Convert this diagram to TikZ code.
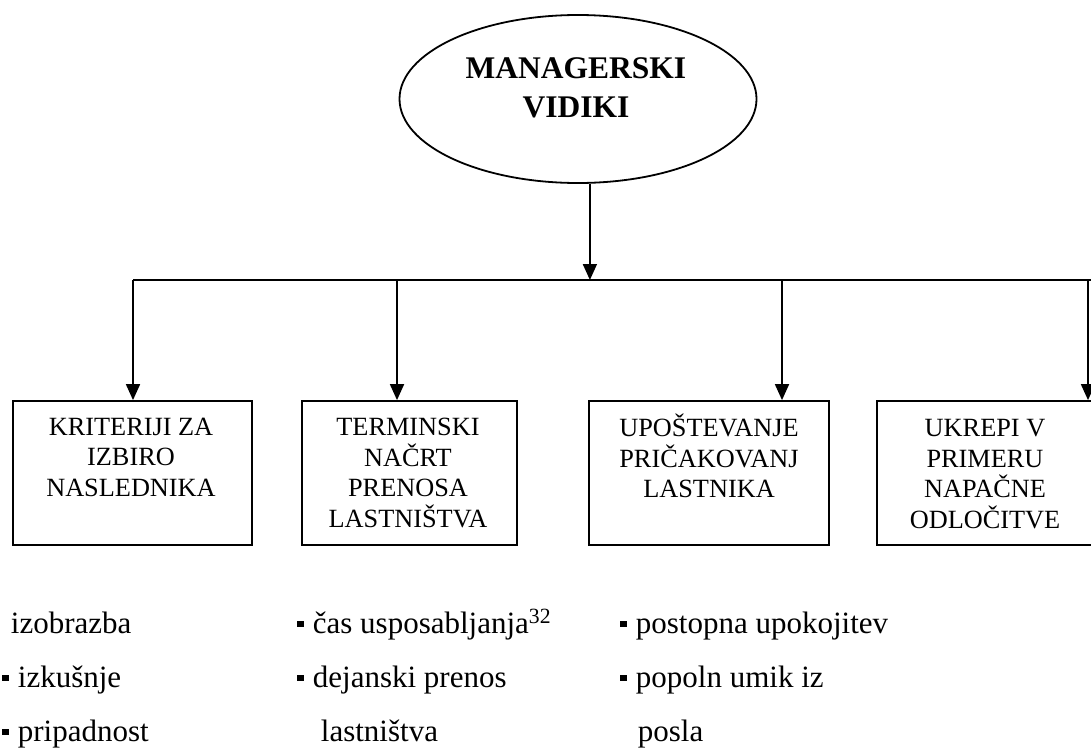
\documentclass[tikz,border=0pt]{standalone}
\usepackage{fontspec}
\setmainfont{Liberation Serif}
\usetikzlibrary{arrows.meta,shapes.geometric}
\newcommand{\sqbul}{\rule[0.18em]{0.2em}{0.2em}\hspace{0.3em}}

\begin{document}
\begin{tikzpicture}[x=1pt, y=-1pt, >={Triangle[length=16pt,width=14pt]}, line width=1.8pt,
    box/.style={draw, minimum width=#1, minimum height=144pt, inner sep=0pt},
    boxtext/.style={align=center, inner sep=0pt, font=\fontsize{26.3}{30.5}\selectfont},
    item/.style={anchor=base west, inner sep=0pt, font=\fontsize{31}{36}\selectfont}]
    \useasboundingbox (0,0) rectangle (1091,747);
    % top ellipse
    \node[draw, ellipse, minimum width=357pt, minimum height=168pt] (vidiki) at (578,99) {};
    \node[align=center, inner sep=0pt, font=\fontsize{31.5}{39}\selectfont\bfseries] (vidikitxt) at (576,88) {MANAGERSKI\\VIDIKI};
    % boxes
    \node[box=239pt] (kriter) at (132.5,473) {};
    \node[box=215pt] (termin) at (409.5,473) {};
    \node[box=240pt] (upost) at (709,473) {};
    \node[box=216pt] (ukrep) at (985,473) {};
    \node[boxtext] (kritertxt) at (131,457) {KRITERIJI ZA\\IZBIRO\\NASLEDNIKA};
    \node[boxtext] (termintxt) at (408,473) {TERMINSKI\\NAČRT\\PRENOSA\\LASTNIŠTVA};
    \node[boxtext] (uposttxt) at (709,456) {UPOŠTEVANJE\\PRIČAKOVANJ\\LASTNIKA};
    \node[boxtext] (ukreptxt) at (985,474) {UKREPI V\\PRIMERU\\NAPAČNE\\ODLOČITVE};
    % connectors
    \coordinate (busL) at (133,280);
    \coordinate (busR) at (1100,280);
    \draw[->] (vidiki.-82.5) -- (vidiki.-82.5 |- busL);
    \draw (busL) -- (busR);
    \foreach \x/\n in {133/kriter, 397/termin, 782/upost, 1088/ukrep} {
        \coordinate (d\n) at (\x,280);
        \draw[->] (d\n) -- (d\n |- \n.north);
    }
    % bullet lists
    \node[item] (izobr) at (10,633) {izobrazba};
    \node[item] (izkus) at (1.5,687) {\sqbul izkušnje};
    \node[item] (pripad) at (1.5,741) {\sqbul pripadnost};
    \node[item] (cas) at (296.5,633) {\sqbul čas usposabljanja\textsuperscript{32}};
    \node[item] (dejan) at (296.5,687) {\sqbul dejanski prenos};
    \node[item] (lastn) at (320,741) {lastništva};
    \node[item] (postop) at (619.5,633) {\sqbul postopna upokojitev};
    \node[item] (popoln) at (619.5,687) {\sqbul popoln umik iz};
    \node[item] (posla) at (637,741) {posla};
\end{tikzpicture}
\end{document}
